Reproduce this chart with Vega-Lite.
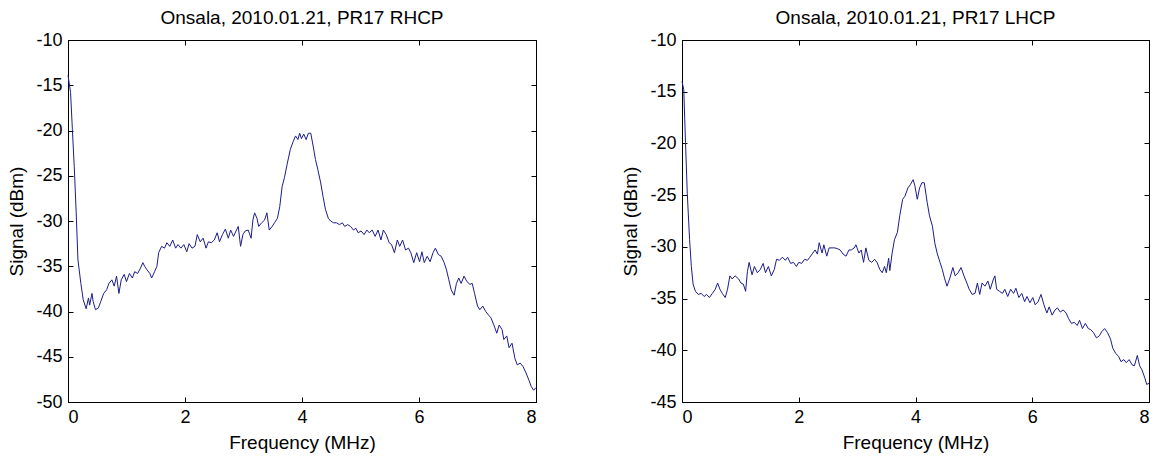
{
  "$schema": "https://vega.github.io/schema/vega-lite/v6.json",
  "autosize": {"type": "pad"},
  "padding": {"left": 6, "top": 8, "right": 0, "bottom": 0},
  "background": "white",
  "spacing": 146,
  "bounds": "flush",
  "config": {
    "font": "Liberation Sans",
    "view": {"stroke": "black", "strokeWidth": 1},
    "axis": {
      "grid": false,
      "domainColor": "black",
      "tickColor": "black",
      "labelColor": "black",
      "titleColor": "black",
      "labelFont": "Liberation Sans",
      "titleFont": "Liberation Sans",
      "labelFontSize": 18,
      "titleFontSize": 19,
      "titleFontWeight": "normal",
      "tickSize": -5,
      "labelExpr": "datum.value < 0 ? '-' + abs(datum.value) : '' + datum.value"
    },
    "axisX": {"labelPadding": 11, "titleY": 46, "titleBaseline": "alphabetic"},
    "axisY": {"labelPadding": 11, "titleX": -46, "titleBaseline": "alphabetic"},
    "title": {"font": "Liberation Sans", "fontSize": 19, "fontWeight": "normal", "color": "black", "offset": 3, "baseline": "alphabetic"}
  },
  "datasets": {
    "rhcp": [
      {"f":0.00,"s":-13.9},{"f":0.044,"s":-15.8},{"f":0.075,"s":-19.9},{"f":0.107,"s":-24.0},{"f":0.14,"s":-29.1},{"f":0.17,"s":-34.3},{"f":0.22,"s":-36.9},{"f":0.26,"s":-38.7},{"f":0.31,"s":-39.7},{"f":0.35,"s":-38.5},{"f":0.37,"s":-39.3},{"f":0.41,"s":-38.0},{"f":0.43,"s":-38.9},{"f":0.47,"s":-39.8},{"f":0.52,"s":-39.6},{"f":0.56,"s":-38.9},{"f":0.61,"s":-38.0},{"f":0.66,"s":-37.6},{"f":0.70,"s":-36.9},{"f":0.75,"s":-36.5},{"f":0.79,"s":-37.2},{"f":0.83,"s":-36.1},{"f":0.87,"s":-38.0},{"f":0.91,"s":-36.5},{"f":0.96,"s":-35.9},{"f":1.00,"s":-36.7},{"f":1.05,"s":-35.8},{"f":1.10,"s":-36.3},{"f":1.14,"s":-35.6},{"f":1.19,"s":-35.8},{"f":1.24,"s":-35.2},{"f":1.28,"s":-34.6},{"f":1.31,"s":-35.0},{"f":1.35,"s":-35.4},{"f":1.40,"s":-35.8},{"f":1.43,"s":-36.3},{"f":1.48,"s":-35.6},{"f":1.52,"s":-35.0},{"f":1.55,"s":-33.5},{"f":1.60,"s":-32.8},{"f":1.65,"s":-33.0},{"f":1.69,"s":-32.4},{"f":1.74,"s":-32.8},{"f":1.79,"s":-32.1},{"f":1.84,"s":-33.0},{"f":1.88,"s":-32.6},{"f":1.93,"s":-33.0},{"f":1.98,"s":-32.6},{"f":2.03,"s":-33.4},{"f":2.07,"s":-32.5},{"f":2.12,"s":-33.0},{"f":2.17,"s":-32.8},{"f":2.21,"s":-31.5},{"f":2.26,"s":-32.3},{"f":2.31,"s":-31.9},{"f":2.36,"s":-33.0},{"f":2.40,"s":-32.3},{"f":2.45,"s":-32.4},{"f":2.50,"s":-32.1},{"f":2.55,"s":-31.3},{"f":2.59,"s":-32.3},{"f":2.64,"s":-31.5},{"f":2.69,"s":-30.9},{"f":2.74,"s":-31.9},{"f":2.78,"s":-31.0},{"f":2.83,"s":-31.7},{"f":2.88,"s":-31.0},{"f":2.91,"s":-30.6},{"f":2.95,"s":-32.8},{"f":2.99,"s":-31.5},{"f":3.03,"s":-31.1},{"f":3.08,"s":-31.0},{"f":3.13,"s":-31.9},{"f":3.16,"s":-29.9},{"f":3.19,"s":-29.1},{"f":3.23,"s":-29.7},{"f":3.26,"s":-30.6},{"f":3.31,"s":-30.2},{"f":3.36,"s":-29.9},{"f":3.40,"s":-29.1},{"f":3.44,"s":-31.0},{"f":3.49,"s":-30.6},{"f":3.53,"s":-30.2},{"f":3.58,"s":-29.7},{"f":3.62,"s":-28.4},{"f":3.66,"s":-26.2},{"f":3.70,"s":-25.2},{"f":3.75,"s":-23.6},{"f":3.80,"s":-22.1},{"f":3.85,"s":-21.2},{"f":3.89,"s":-20.6},{"f":3.93,"s":-21.0},{"f":3.96,"s":-20.3},{"f":3.99,"s":-20.9},{"f":4.03,"s":-20.4},{"f":4.07,"s":-21.0},{"f":4.11,"s":-20.3},{"f":4.15,"s":-20.3},{"f":4.19,"s":-21.7},{"f":4.23,"s":-23.2},{"f":4.27,"s":-24.3},{"f":4.32,"s":-25.8},{"f":4.36,"s":-27.3},{"f":4.40,"s":-28.7},{"f":4.45,"s":-29.7},{"f":4.49,"s":-30.0},{"f":4.54,"s":-30.2},{"f":4.59,"s":-30.2},{"f":4.64,"s":-30.4},{"f":4.69,"s":-30.2},{"f":4.73,"s":-30.6},{"f":4.78,"s":-30.4},{"f":4.83,"s":-30.6},{"f":4.88,"s":-31.0},{"f":4.92,"s":-30.8},{"f":4.96,"s":-31.3},{"f":5.01,"s":-31.1},{"f":5.06,"s":-31.5},{"f":5.11,"s":-31.0},{"f":5.15,"s":-31.3},{"f":5.20,"s":-31.0},{"f":5.25,"s":-31.7},{"f":5.30,"s":-31.0},{"f":5.35,"s":-32.1},{"f":5.39,"s":-31.0},{"f":5.44,"s":-31.5},{"f":5.49,"s":-32.4},{"f":5.53,"s":-32.6},{"f":5.58,"s":-33.5},{"f":5.63,"s":-32.1},{"f":5.67,"s":-32.8},{"f":5.72,"s":-32.1},{"f":5.77,"s":-33.2},{"f":5.82,"s":-33.0},{"f":5.86,"s":-33.5},{"f":5.91,"s":-34.6},{"f":5.96,"s":-33.5},{"f":6.01,"s":-34.5},{"f":6.05,"s":-33.4},{"f":6.09,"s":-34.6},{"f":6.14,"s":-33.9},{"f":6.19,"s":-34.5},{"f":6.24,"s":-33.5},{"f":6.28,"s":-33.0},{"f":6.33,"s":-33.7},{"f":6.38,"s":-33.9},{"f":6.43,"s":-34.6},{"f":6.47,"s":-35.4},{"f":6.51,"s":-36.5},{"f":6.55,"s":-37.6},{"f":6.60,"s":-38.2},{"f":6.64,"s":-36.9},{"f":6.68,"s":-36.3},{"f":6.72,"s":-36.9},{"f":6.77,"s":-36.1},{"f":6.82,"s":-36.7},{"f":6.87,"s":-37.0},{"f":6.91,"s":-36.9},{"f":6.95,"s":-38.0},{"f":7.00,"s":-39.4},{"f":7.04,"s":-39.8},{"f":7.09,"s":-39.4},{"f":7.14,"s":-40.0},{"f":7.19,"s":-40.4},{"f":7.23,"s":-40.7},{"f":7.28,"s":-41.5},{"f":7.33,"s":-42.4},{"f":7.37,"s":-41.5},{"f":7.42,"s":-42.0},{"f":7.45,"s":-43.1},{"f":7.50,"s":-42.7},{"f":7.54,"s":-44.0},{"f":7.59,"s":-43.5},{"f":7.64,"s":-45.2},{"f":7.68,"s":-45.9},{"f":7.73,"s":-45.7},{"f":7.78,"s":-46.1},{"f":7.83,"s":-46.8},{"f":7.88,"s":-47.6},{"f":7.92,"s":-48.3},{"f":7.96,"s":-48.7},{"f":8.00,"s":-48.4}
    ],
    "lhcp": [
      {"f":0.00,"s":-14.0},{"f":0.03,"s":-14.8},{"f":0.06,"s":-19.9},{"f":0.09,"s":-24.8},{"f":0.13,"s":-29.3},{"f":0.16,"s":-31.9},{"f":0.19,"s":-33.6},{"f":0.23,"s":-34.3},{"f":0.28,"s":-34.6},{"f":0.33,"s":-34.5},{"f":0.38,"s":-34.8},{"f":0.42,"s":-34.6},{"f":0.47,"s":-34.9},{"f":0.52,"s":-34.5},{"f":0.57,"s":-34.1},{"f":0.61,"s":-33.5},{"f":0.65,"s":-34.1},{"f":0.69,"s":-34.5},{"f":0.74,"s":-34.9},{"f":0.78,"s":-34.1},{"f":0.82,"s":-32.8},{"f":0.86,"s":-33.1},{"f":0.91,"s":-32.8},{"f":0.97,"s":-33.1},{"f":1.01,"s":-33.5},{"f":1.05,"s":-33.6},{"f":1.09,"s":-34.3},{"f":1.12,"s":-32.4},{"f":1.15,"s":-31.5},{"f":1.20,"s":-32.7},{"f":1.24,"s":-31.9},{"f":1.29,"s":-32.5},{"f":1.34,"s":-32.2},{"f":1.39,"s":-31.6},{"f":1.43,"s":-32.5},{"f":1.48,"s":-31.9},{"f":1.53,"s":-32.8},{"f":1.58,"s":-32.2},{"f":1.62,"s":-31.2},{"f":1.67,"s":-31.3},{"f":1.72,"s":-31.0},{"f":1.77,"s":-31.3},{"f":1.81,"s":-31.0},{"f":1.86,"s":-31.6},{"f":1.91,"s":-31.5},{"f":1.96,"s":-31.9},{"f":2.00,"s":-31.5},{"f":2.05,"s":-31.6},{"f":2.10,"s":-31.2},{"f":2.15,"s":-31.3},{"f":2.19,"s":-31.0},{"f":2.24,"s":-30.6},{"f":2.28,"s":-30.3},{"f":2.32,"s":-30.7},{"f":2.35,"s":-29.6},{"f":2.40,"s":-30.6},{"f":2.43,"s":-29.8},{"f":2.48,"s":-30.9},{"f":2.52,"s":-30.1},{"f":2.57,"s":-30.1},{"f":2.62,"s":-30.1},{"f":2.67,"s":-30.2},{"f":2.71,"s":-30.3},{"f":2.76,"s":-30.7},{"f":2.81,"s":-30.9},{"f":2.86,"s":-30.3},{"f":2.90,"s":-30.3},{"f":2.95,"s":-30.1},{"f":2.98,"s":-29.8},{"f":3.03,"s":-30.6},{"f":3.07,"s":-30.3},{"f":3.11,"s":-31.5},{"f":3.15,"s":-30.1},{"f":3.20,"s":-31.3},{"f":3.25,"s":-31.5},{"f":3.30,"s":-31.2},{"f":3.34,"s":-31.5},{"f":3.39,"s":-32.2},{"f":3.43,"s":-32.5},{"f":3.47,"s":-31.9},{"f":3.50,"s":-32.5},{"f":3.54,"s":-31.1},{"f":3.56,"s":-32.3},{"f":3.60,"s":-30.6},{"f":3.64,"s":-29.3},{"f":3.69,"s":-28.6},{"f":3.73,"s":-27.0},{"f":3.78,"s":-25.4},{"f":3.82,"s":-25.1},{"f":3.87,"s":-24.3},{"f":3.91,"s":-24.0},{"f":3.96,"s":-23.5},{"f":3.99,"s":-24.1},{"f":4.03,"s":-25.4},{"f":4.07,"s":-24.3},{"f":4.11,"s":-23.8},{"f":4.15,"s":-23.8},{"f":4.20,"s":-25.7},{"f":4.24,"s":-27.0},{"f":4.29,"s":-28.0},{"f":4.33,"s":-29.6},{"f":4.37,"s":-30.6},{"f":4.42,"s":-31.5},{"f":4.46,"s":-32.2},{"f":4.50,"s":-33.1},{"f":4.54,"s":-33.8},{"f":4.59,"s":-33.0},{"f":4.64,"s":-32.0},{"f":4.68,"s":-32.8},{"f":4.73,"s":-32.5},{"f":4.78,"s":-32.0},{"f":4.83,"s":-32.8},{"f":4.88,"s":-33.5},{"f":4.92,"s":-34.1},{"f":4.97,"s":-34.6},{"f":5.02,"s":-34.5},{"f":5.06,"s":-33.5},{"f":5.10,"s":-34.6},{"f":5.14,"s":-33.5},{"f":5.19,"s":-33.8},{"f":5.24,"s":-33.3},{"f":5.28,"s":-34.1},{"f":5.33,"s":-33.2},{"f":5.36,"s":-32.8},{"f":5.39,"s":-34.1},{"f":5.44,"s":-34.3},{"f":5.49,"s":-34.5},{"f":5.53,"s":-34.1},{"f":5.58,"s":-34.8},{"f":5.63,"s":-34.1},{"f":5.68,"s":-34.5},{"f":5.72,"s":-34.0},{"f":5.77,"s":-34.9},{"f":5.82,"s":-34.5},{"f":5.87,"s":-35.3},{"f":5.91,"s":-34.8},{"f":5.96,"s":-35.4},{"f":6.01,"s":-34.9},{"f":6.05,"s":-35.6},{"f":6.10,"s":-35.3},{"f":6.15,"s":-34.6},{"f":6.20,"s":-35.6},{"f":6.25,"s":-36.4},{"f":6.29,"s":-35.8},{"f":6.34,"s":-36.6},{"f":6.39,"s":-36.1},{"f":6.43,"s":-35.9},{"f":6.48,"s":-36.3},{"f":6.53,"s":-36.1},{"f":6.58,"s":-36.4},{"f":6.62,"s":-36.9},{"f":6.67,"s":-37.4},{"f":6.72,"s":-37.3},{"f":6.77,"s":-37.6},{"f":6.81,"s":-37.1},{"f":6.86,"s":-37.9},{"f":6.91,"s":-37.4},{"f":6.96,"s":-37.9},{"f":7.00,"s":-38.0},{"f":7.05,"s":-38.3},{"f":7.10,"s":-38.8},{"f":7.15,"s":-38.6},{"f":7.19,"s":-38.2},{"f":7.24,"s":-37.9},{"f":7.29,"s":-38.3},{"f":7.34,"s":-38.9},{"f":7.38,"s":-39.8},{"f":7.43,"s":-40.3},{"f":7.48,"s":-40.6},{"f":7.52,"s":-41.1},{"f":7.57,"s":-40.9},{"f":7.61,"s":-41.2},{"f":7.66,"s":-40.9},{"f":7.71,"s":-41.4},{"f":7.75,"s":-41.5},{"f":7.80,"s":-40.5},{"f":7.84,"s":-41.5},{"f":7.88,"s":-41.9},{"f":7.93,"s":-42.7},{"f":7.96,"s":-43.3},{"f":8.00,"s":-43.2}
    ]
  },
  "hconcat": [
    {
      "width": 468,
      "height": 362,
      "title": "Onsala, 2010.01.21, PR17 RHCP",
      "data": {"name": "rhcp"},
      "layer": [
        {
          "mark": {"type": "line", "color": "#1c1c8c", "strokeWidth": 1},
          "encoding": {
            "x": {"field": "f", "type": "quantitative", "scale": {"domain": [0, 8], "nice": false, "zero": false}, "axis": {"title": "Frequency (MHz)", "values": [0, 2, 4, 6, 8]}},
            "y": {"field": "s", "type": "quantitative", "scale": {"domain": [-50, -10], "nice": false, "zero": false}, "axis": {"title": "Signal (dBm)", "values": [-50, -45, -40, -35, -30, -25, -20, -15, -10]}}
          }
        },
        {
          "mark": {"type": "line", "opacity": 0},
          "encoding": {
            "x": {"field": "f", "type": "quantitative", "axis": {"orient": "top", "labels": false, "title": null, "values": [0, 2, 4, 6, 8]}},
            "y": {"field": "s", "type": "quantitative", "axis": {"orient": "right", "labels": false, "title": null, "values": [-50, -45, -40, -35, -30, -25, -20, -15, -10]}}
          }
        }
      ],
      "resolve": {"axis": {"x": "independent", "y": "independent"}}
    },
    {
      "width": 467,
      "height": 362,
      "title": "Onsala, 2010.01.21, PR17 LHCP",
      "data": {"name": "lhcp"},
      "layer": [
        {
          "mark": {"type": "line", "color": "#1c1c8c", "strokeWidth": 1},
          "encoding": {
            "x": {"field": "f", "type": "quantitative", "scale": {"domain": [0, 8], "nice": false, "zero": false}, "axis": {"title": "Frequency (MHz)", "values": [0, 2, 4, 6, 8]}},
            "y": {"field": "s", "type": "quantitative", "scale": {"domain": [-45, -10], "nice": false, "zero": false}, "axis": {"title": "Signal (dBm)", "values": [-45, -40, -35, -30, -25, -20, -15, -10]}}
          }
        },
        {
          "mark": {"type": "line", "opacity": 0},
          "encoding": {
            "x": {"field": "f", "type": "quantitative", "axis": {"orient": "top", "labels": false, "title": null, "values": [0, 2, 4, 6, 8]}},
            "y": {"field": "s", "type": "quantitative", "axis": {"orient": "right", "labels": false, "title": null, "values": [-45, -40, -35, -30, -25, -20, -15, -10]}}
          }
        }
      ],
      "resolve": {"axis": {"x": "independent", "y": "independent"}}
    }
  ]
}
